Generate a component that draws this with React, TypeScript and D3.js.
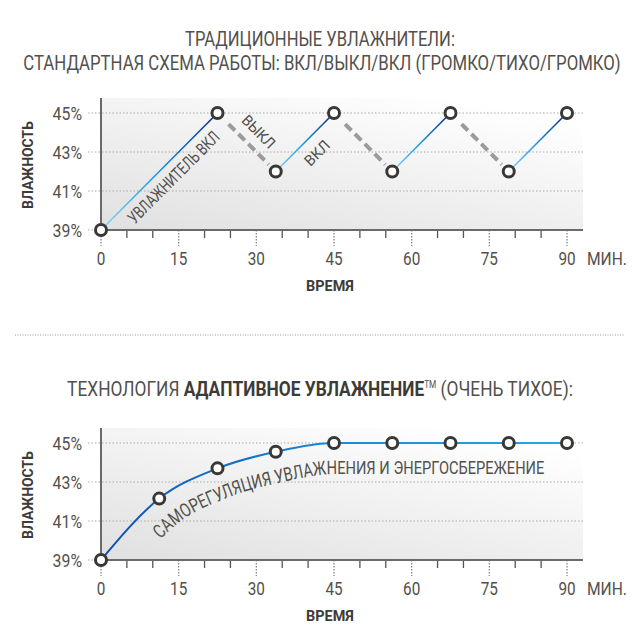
import { useEffect, useRef } from 'react';
import * as d3 from 'd3';

// traditional humidifier: on/off cycle
const cycleMinutes = [0, 22.5, 33.75, 45, 56.25, 67.5, 78.75, 90];
const cycleHumidity = [39, 45, 42, 45, 42, 45, 42, 45];

// adaptive humidification: smooth rise
const adaptiveMinutes = [0, 11.25, 22.5, 33.75, 45, 56.25, 67.5, 78.75, 90];
const adaptiveHumidity = [39, 42.15, 43.7, 44.55, 45, 45, 45, 45, 45];

const yTicks = [39, 41, 43, 45];
const xLabels = [0, 15, 30, 45, 60, 75, 90];
const xTicks = d3.range(0, 95, 5);

const segmentNotes = [
  { seg: 0, text: 'УВЛАЖНИТЕЛЬ ВКЛ', normal: 14, along: 6, len: 122, size: 17 },
  { seg: 1, text: 'ВЫКЛ', normal: -16, along: 1, len: 40, size: 15 },
  { seg: 2, text: 'ВКЛ', normal: 16, along: 1, len: 29, size: 15 },
];

const FONT = "Roboto, 'Liberation Sans', sans-serif";
const TEXT = '#52504c';
const DARK = '#3d3b38';

type Sel = d3.Selection<any, any, any, any>;

// text placed at (x, y); optionally squeezed to a given width or by a fixed factor
function label(parent: Sel, x: number, y: number, str: string, o: {
  size: number; weight?: number | string; anchor?: string; fill?: string; width?: number; k?: number;
}) {
  const t = parent.append('text')
    .attr('font-size', o.size)
    .attr('font-weight', o.weight ?? 400)
    .attr('text-anchor', o.anchor ?? 'start')
    .attr('fill', o.fill ?? TEXT)
    .text(str);
  let k = o.k ?? 1;
  if (o.width) {
    const w = (t.node() as SVGTextElement).getBBox().width;
    k = o.width / w;
  }
  t.attr('transform', `translate(${x},${y}) scale(${k},1)`);
  return t;
}

export default function App() {
  const svgRef = useRef<SVGSVGElement>(null);

  useEffect(() => {
    const svg = d3.select(svgRef.current);
    svg.selectAll('*').remove();
    svg.attr('width', 640).attr('height', 640).style('font-family', FONT);

    const defs = svg.append('defs');
    const bg = defs.append('linearGradient').attr('id', 'bgGrad')
      .attr('x1', 0).attr('y1', 1).attr('x2', 0.75).attr('y2', 0);
    bg.append('stop').attr('offset', 0).attr('stop-color', '#e0e0e0');
    bg.append('stop').attr('offset', 1).attr('stop-color', '#ffffff');

    const x = d3.scaleLinear().domain([0, 90]).range([101, 567]);

    function frame(top: number, bottom: number) {
      const y = d3.scaleLinear().domain([39, 45]).range([bottom, bottom - 117]);
      const g = svg.append('g');
      g.append('rect').attr('x', 101).attr('y', top).attr('width', 482).attr('height', bottom - top)
        .attr('fill', 'url(#bgGrad)');
      g.selectAll('line.grid').data(yTicks).enter().append('line')
        .attr('x1', 88).attr('x2', d => (d === 39 ? 101 : 583))
        .attr('y1', d => y(d)).attr('y2', d => y(d))
        .attr('stroke', '#aaa').attr('stroke-width', 1).attr('stroke-dasharray', '1.5,2');
      yTicks.forEach(d => label(g, 82, y(d) + 6.5, `${d}%`, { size: 18, anchor: 'end', k: 0.88 }));
      g.selectAll('line.tick').data(xTicks).enter().append('line')
        .attr('x1', d => x(d)).attr('x2', d => x(d))
        .attr('y1', bottom).attr('y2', d => (d % 15 === 0 ? bottom + 16 : bottom + 8))
        .attr('stroke', d => (d % 15 === 0 ? '#888' : '#555'))
        .attr('stroke-width', 1.3)
        .attr('stroke-dasharray', d => (d % 15 === 0 ? '1.5,1.5' : null));
      g.append('line').attr('x1', 101).attr('x2', 101).attr('y1', top).attr('y2', bottom)
        .attr('stroke', '#6a6a6a').attr('stroke-width', 2);
      g.append('line').attr('x1', 101).attr('x2', 583).attr('y1', bottom).attr('y2', bottom)
        .attr('stroke', '#6a6a6a').attr('stroke-width', 2);
      xLabels.forEach(d => label(g, x(d), bottom + 35, String(d), { size: 18, anchor: 'middle', k: 0.85 }));
      label(g, 587, bottom + 35, 'МИН.', { size: 18, width: 40 });
      label(g, 330, bottom + 61, 'ВРЕМЯ', { size: 15, weight: 'bold', anchor: 'middle', fill: DARK, width: 48 });
      const yl = label(g, 0, 0, 'ВЛАЖНОСТЬ', { size: 15, weight: 'bold', anchor: 'middle', fill: DARK, width: 88 });
      const kk = yl.attr('transform').match(/scale\(([^,]+),/)![1];
      yl.attr('transform', `translate(33,${(top + bottom) / 2 + 1}) rotate(-90) scale(${kk},1)`);
      return y;
    }

    // titles
    label(svg, 320, 46, 'ТРАДИЦИОННЫЕ УВЛАЖНИТЕЛИ:', { size: 19.5, anchor: 'middle', width: 270 });
    label(svg, 322, 70, 'СТАНДАРТНАЯ СХЕМА РАБОТЫ: ВКЛ/ВЫКЛ/ВКЛ (ГРОМКО/ТИХО/ГРОМКО)',
      { size: 19.5, anchor: 'middle', width: 598 });

    svg.append('line').attr('x1', 15).attr('x2', 625).attr('y1', 335).attr('y2', 335)
      .attr('stroke', '#9a9a9a').attr('stroke-width', 1).attr('stroke-dasharray', '1,1.5');

    const t2 = svg.append('text').attr('font-size', 21).attr('font-weight', 400)
      .attr('text-anchor', 'middle').attr('fill', TEXT);
    t2.append('tspan').text('ТЕХНОЛОГИЯ ');
    t2.append('tspan').attr('font-weight', 'bold').attr('fill', DARK).text('АДАПТИВНОЕ УВЛАЖНЕНИЕ');
    t2.append('tspan').attr('font-size', 10).attr('dy', -8).text('TM');
    t2.append('tspan').attr('dy', 8).text(' (ОЧЕНЬ ТИХОЕ):');
    const w2 = (t2.node() as SVGTextElement).getBBox().width;
    t2.attr('transform', `translate(320,396) scale(${506 / w2},1)`);

    // ---- top chart
    const yTop = frame(98, 230);
    const pts = cycleMinutes.map((m, i) => [x(m), yTop(cycleHumidity[i])] as [number, number]);
    const segs = d3.pairs(pts);
    const segG = svg.append('g');
    segs.forEach(([p0, p1], i) => {
      const rising = p1[1] < p0[1];
      if (rising) {
        const id = `on${i}`;
        const gr = defs.append('linearGradient').attr('id', id).attr('gradientUnits', 'userSpaceOnUse')
          .attr('x1', p0[0]).attr('y1', p0[1]).attr('x2', p1[0]).attr('y2', p1[1]);
        gr.append('stop').attr('offset', 0).attr('stop-color', '#8fd6f7');
        gr.append('stop').attr('offset', 0.45).attr('stop-color', '#1f9be0');
        gr.append('stop').attr('offset', 1).attr('stop-color', '#0b2a86');
        segG.append('line').attr('x1', p0[0]).attr('y1', p0[1]).attr('x2', p1[0]).attr('y2', p1[1])
          .attr('stroke', `url(#${id})`).attr('stroke-width', 1.6);
      } else {
        const a = 0.19, b = 0.88;
        segG.append('line')
          .attr('x1', p0[0] + (p1[0] - p0[0]) * a).attr('y1', p0[1] + (p1[1] - p0[1]) * a)
          .attr('x2', p0[0] + (p1[0] - p0[0]) * b).attr('y2', p0[1] + (p1[1] - p0[1]) * b)
          .attr('stroke', '#9b9b9b').attr('stroke-width', 4).attr('stroke-dasharray', '9,5');
      }
    });
    segmentNotes.forEach(n => {
      const [p0, p1] = segs[n.seg];
      const dx = p1[0] - p0[0], dy = p1[1] - p0[1];
      const L = Math.hypot(dx, dy);
      const ux = dx / L, uy = dy / L;
      const nx = -uy, ny = ux;
      const cx = (p0[0] + p1[0]) / 2 + ux * n.along + nx * n.normal;
      const cy = (p0[1] + p1[1]) / 2 + uy * n.along + ny * n.normal;
      const ang = (Math.atan2(dy, dx) * 180) / Math.PI;
      svg.append('text').attr('transform', `translate(${cx},${cy}) rotate(${ang})`)
        .attr('text-anchor', 'middle').attr('dy', '0.36em').attr('font-size', n.size)
        .attr('fill', TEXT).attr('textLength', n.len).attr('lengthAdjust', 'spacingAndGlyphs')
        .text(n.text);
    });
    svg.append('g').selectAll('circle').data(pts).enter().append('circle')
      .attr('cx', d => d[0]).attr('cy', d => d[1]).attr('r', 5.5)
      .attr('fill', '#fff').attr('stroke', '#3a3834').attr('stroke-width', 3);

    // ---- bottom chart
    const yBot = frame(428, 560);
    const bpts = adaptiveMinutes.map((m, i) => [x(m), yBot(adaptiveHumidity[i])] as [number, number]);
    const cg = defs.append('linearGradient').attr('id', 'curveGrad').attr('gradientUnits', 'userSpaceOnUse')
      .attr('x1', x(0)).attr('y1', 0).attr('x2', x(90)).attr('y2', 0);
    cg.append('stop').attr('offset', 0).attr('stop-color', '#0b4fb3');
    cg.append('stop').attr('offset', 0.5).attr('stop-color', '#1a8ad8');
    cg.append('stop').attr('offset', 1).attr('stop-color', '#2aa6e6');
    const curvePath = svg.append('path')
      .attr('d', d3.line().curve(d3.curveMonotoneX)(bpts))
      .attr('fill', 'none').attr('stroke', 'url(#curveGrad)').attr('stroke-width', 2);

    // text following the curve, offset below it
    const node = curvePath.node() as SVGPathElement;
    const total = node.getTotalLength();
    const N = 400;
    const off: [number, number][] = [];
    for (let i = 1; i < N; i++) {
      const a = node.getPointAtLength((total * (i - 1)) / N);
      const b = node.getPointAtLength((total * (i + 1)) / N);
      const c = node.getPointAtLength((total * i) / N);
      const L = Math.hypot(b.x - a.x, b.y - a.y) || 1;
      const ux = (b.x - a.x) / L, uy = (b.y - a.y) / L;
      off.push([c.x - uy * 31, c.y + ux * 31]);
    }
    const tp = off.filter(p => p[0] >= 160 && p[0] <= 545);
    defs.append('path').attr('id', 'notePath').attr('d', d3.line()(tp));
    const tpLen = (defs.select('#notePath').node() as SVGPathElement).getTotalLength();
    svg.append('text').attr('font-size', 19).attr('fill', TEXT)
      .append('textPath').attr('href', '#notePath')
      .attr('textLength', tpLen).attr('lengthAdjust', 'spacingAndGlyphs')
      .text('САМОРЕГУЛЯЦИЯ УВЛАЖНЕНИЯ И ЭНЕРГОСБЕРЕЖЕНИЕ');

    svg.append('g').selectAll('circle').data(bpts).enter().append('circle')
      .attr('cx', d => d[0]).attr('cy', d => d[1]).attr('r', 5.5)
      .attr('fill', '#fff').attr('stroke', '#3a3834').attr('stroke-width', 3);
  }, []);

  return <svg ref={svgRef} style={{ position: 'absolute', left: 0, top: 0, background: '#fff' }} />;
}
